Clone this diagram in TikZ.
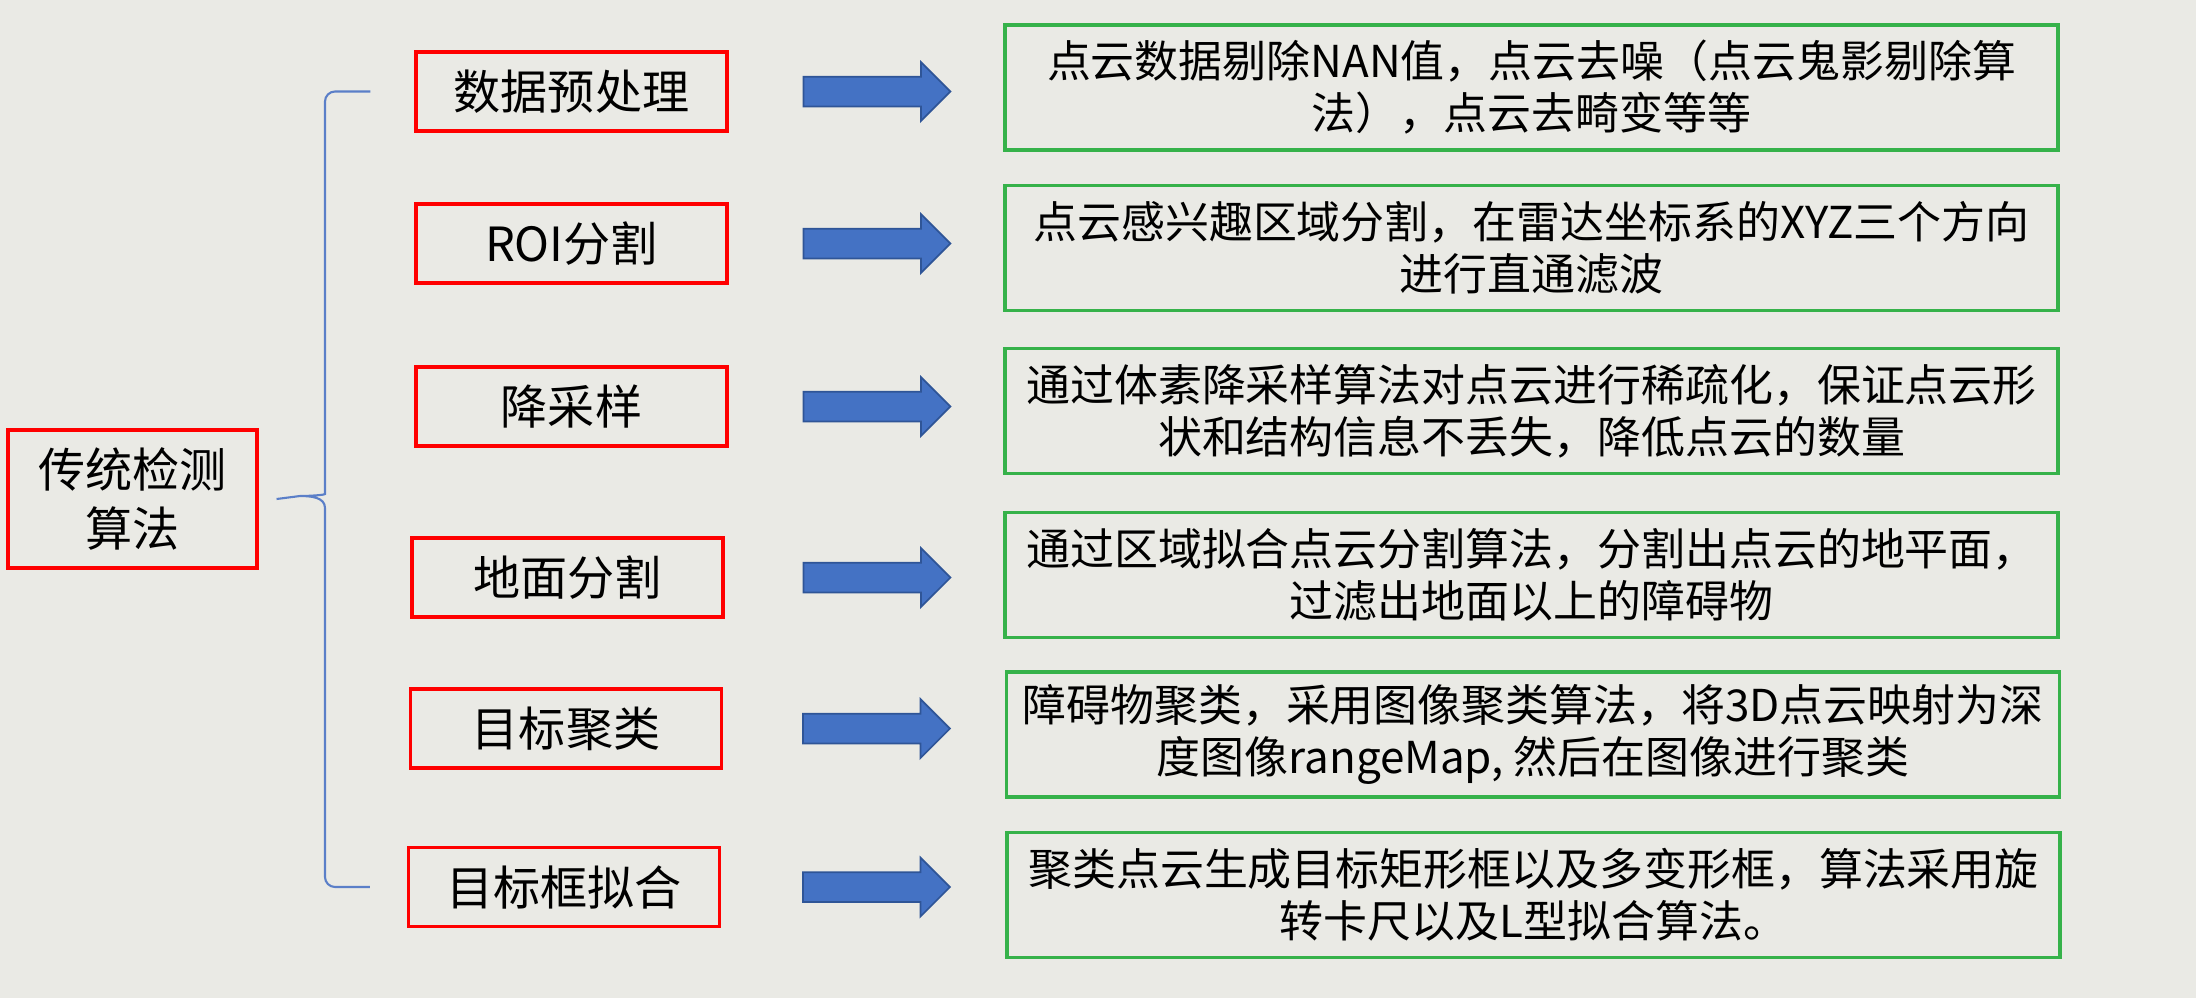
\documentclass[tikz,border=0pt]{standalone}
\usepackage{fontspec}
\setmainfont{Noto Sans CJK SC}
\usepackage{xcolor}
\usepackage{tikz}
\usetikzlibrary{positioning,shapes.arrows,calc}
\definecolor{slidebg}{HTML}{EAEAE5}
\definecolor{stepred}{HTML}{FF0000}
\definecolor{descgreen}{HTML}{36B24A}
\definecolor{arrowblue}{HTML}{4472C4}
\definecolor{arrowedge}{HTML}{2F5597}
\definecolor{braceblue}{HTML}{5B7FC8}

\begin{document}
\begin{tikzpicture}[
    stepbox/.style={draw=stepred,line width=0.9pt,minimum width=3.11cm,minimum height=0.79cm,inner sep=0pt,font=\fontsize{13.4}{17}\selectfont},
    rootbox/.style={stepbox,minimum width=2.49cm,minimum height=1.38cm,align=center},
    descbox/.style={draw=descgreen,line width=1.1pt,minimum width=10.53cm,minimum height=1.25cm,inner sep=0pt,align=center,font=\fontsize{12.5}{14.8}\selectfont},
    blockarrow/.style={single arrow,draw=arrowedge,fill=arrowblue,line width=0.5pt,minimum height=1.47cm,single arrow head extend=0.145cm,single arrow tip angle=90,inner xsep=0pt,inner ysep=0.14cm},
    brace/.style={draw=braceblue,line width=0.6pt}
  ]
    \fill[slidebg] (0,0) rectangle (21.96,-9.98);
    \useasboundingbox (0,0) rectangle (21.96,-9.98);

    \node[rootbox] (root) at (1.325,-4.99) {传统检测\\算法};

    \node[stepbox] (s1) at (5.715,-0.915) {数据预处理};
    \node[stepbox] (s2) at (5.715,-2.435) {ROI分割};
    \node[stepbox] (s3) at (5.715,-4.065) {降采样};
    \node[stepbox] (s4) at (5.675,-5.775) {地面分割};
    \node[stepbox] (s5) at (5.66,-7.285) {目标聚类};
    \node[stepbox] (s6) at (5.64,-8.87) {目标框拟合};

    \node[blockarrow,right=0.74cm of s1] (a1) {};
    \node[blockarrow,right=0.74cm of s2] (a2) {};
    \node[blockarrow,right=0.74cm of s3] (a3) {};
    \node[blockarrow,right=0.78cm of s4] (a4) {};
    \node[blockarrow,right=0.79cm of s5] (a5) {};
    \node[blockarrow,right=0.81cm of s6] (a6) {};

    \node[descbox] (d1) at (15.315,-0.875) {点云数据剔除NAN值，点云去噪（点云鬼影剔除算\\法），点云去畸变等等};
    \node[descbox] (d2) at (15.315,-2.48) {点云感兴趣区域分割，在雷达坐标系的XYZ三个方向\\进行直通滤波};
    \node[descbox] (d3) at (15.315,-4.11) {通过体素降采样算法对点云进行稀疏化，保证点云形\\状和结构信息不丢失，降低点云的数量};
    \node[descbox] (d4) at (15.315,-5.75) {通过区域拟合点云分割算法，分割出点云的地平面，\\过滤出地面以上的障碍物};
    \node[descbox] (d5) at (15.33,-7.345) {障碍物聚类，采用图像聚类算法，将3D点云映射为深\\度图像rangeMap, 然后在图像进行聚类};
    \node[descbox] (d6) at (15.335,-8.95) {聚类点云生成目标矩形框以及多变形框，算法采用旋\\转卡尺以及L型拟合算法。};

    \coordinate (btop) at ($(s1.west)+(-0.44,0)$);
    \coordinate (bbot) at ($(s6.west)+(-0.37,0)$);
    \coordinate (btip) at ($(root.east)+(0.18,0)$);
    \draw[brace] (btop) [rounded corners=0.1cm] -| (3.25,-4.84) [sharp corners] to[out=-90,in=0] (3.00,-4.96) -- (btip) -- (3.00,-4.96) to[out=0,in=90] (3.25,-5.08) [rounded corners=0.1cm] |- (bbot);
  \end{tikzpicture}
\end{document}
